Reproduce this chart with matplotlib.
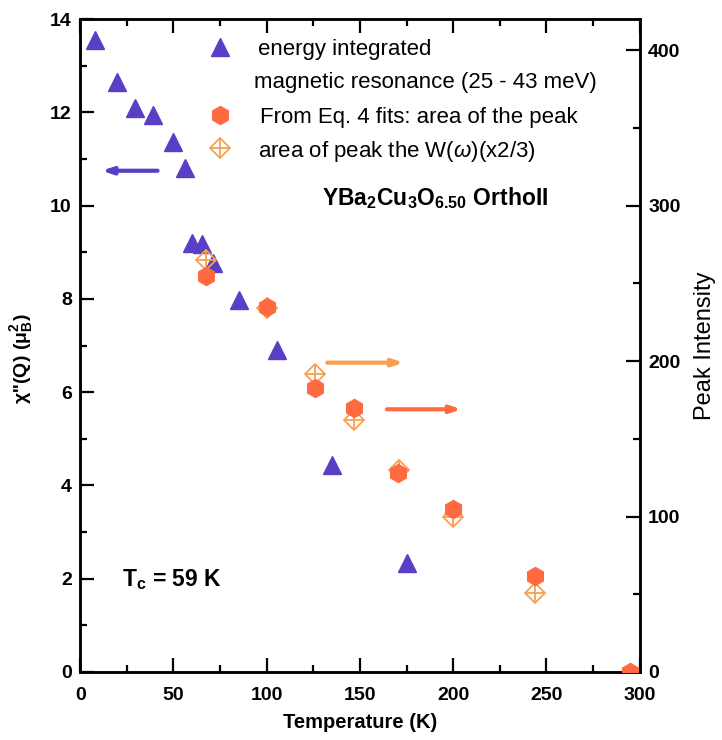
import numpy as np
import matplotlib
matplotlib.use("Agg")
import matplotlib.pyplot as plt
from matplotlib.ticker import MultipleLocator

plt.rcParams['font.family'] = ['Liberation Sans', 'DejaVu Sans']
plt.rcParams['mathtext.fontset'] = 'custom'
plt.rcParams['mathtext.rm'] = 'Liberation Sans'
plt.rcParams['mathtext.it'] = 'Liberation Sans:italic'
plt.rcParams['mathtext.bf'] = 'Liberation Sans:bold'

# energy integrated magnetic resonance (left axis)
temp_res = [8, 20, 29.5, 39, 50, 56, 60, 65.5, 71, 85, 105.5, 135, 175]
chi_res = [13.55, 12.65, 12.1, 11.94, 11.36, 10.8, 9.2, 9.18, 8.77, 7.98, 6.9, 4.44, 2.34]

# Eq. 4 fits: area of the peak (right axis)
temp_fit = [67.5, 100, 126, 147, 170.5, 200, 244, 295]
area_fit = [255, 235, 183, 170, 128, 105, 62, 0]

# area of peak the W(omega) x2/3 (right axis)
temp_w = [67.5, 100, 126, 147, 171, 200, 244]
area_w = [265, 234, 192, 162, 130, 100, 51]

purple = '#5a3fc6'
red = '#ff6a40'
orange = '#f7a052'

fig = plt.figure(figsize=(7.22, 7.40), dpi=100)
ax = fig.add_axes([0.111, 0.092, 0.775, 0.882])
ax2 = ax.twinx()

ax.plot(temp_res, chi_res, ls='none', marker='^', ms=13, color=purple, mec=purple, zorder=3)
ax2.plot(temp_w, area_w, ls='none', marker='D', ms=10, mfc='none', mec=orange, mew=1.3, zorder=3)
ax2.plot(temp_w, area_w, ls='none', marker='+', ms=14, mec=orange, mew=1.3, zorder=3)
ax2.plot(temp_fit, area_fit, ls='none', marker='h', ms=13, color=red, mec=red, zorder=4, clip_on=True)

# arrows pointing to the axis each series belongs to
ax.annotate('', xy=(10, 10.75), xytext=(43, 10.75),
            arrowprops=dict(arrowstyle='-|>,head_length=0.6,head_width=0.2', color=purple, lw=3))
ax2.annotate('', xy=(175, 199), xytext=(131, 199),
             arrowprops=dict(arrowstyle='-|>,head_length=0.6,head_width=0.2', color=orange, lw=3))
ax2.annotate('', xy=(206, 169), xytext=(163, 169),
             arrowprops=dict(arrowstyle='-|>,head_length=0.6,head_width=0.2', color=red, lw=3))

ax.set_xlim(0, 300)
ax.set_ylim(0, 14)
ax2.set_ylim(0, 420)

ax.xaxis.set_major_locator(MultipleLocator(50))
ax.xaxis.set_minor_locator(MultipleLocator(25))
ax.yaxis.set_major_locator(MultipleLocator(2))
ax.yaxis.set_minor_locator(MultipleLocator(1))
ax2.yaxis.set_major_locator(MultipleLocator(100))
ax2.yaxis.set_minor_locator(MultipleLocator(50))

for a in (ax, ax2):
    for s in a.spines.values():
        s.set_linewidth(1.8)
ax.tick_params(which='both', direction='in', top=True, right=False, width=1.6)
ax.tick_params(which='major', length=10, labelsize=14, pad=6)
ax.tick_params(axis='x', which='major', pad=11)
ax.tick_params(which='minor', length=5)
ax2.tick_params(which='both', direction='in', width=1.6)
ax2.tick_params(which='major', length=10, labelsize=14, pad=6)
ax2.tick_params(which='minor', length=5)
for lab in ax.get_xticklabels() + ax.get_yticklabels() + ax2.get_yticklabels():
    lab.set_fontweight('bold')

ax.set_xlabel('Temperature (K)', fontsize=14.5, fontweight='bold', labelpad=6)
ax.set_ylabel(r"χ''(Q) (μ$_\mathbf{B}^\mathbf{2}$)", fontsize=14, fontweight='bold')
ax.yaxis.set_label_coords(-0.08, 0.48)
ax2.set_ylabel('Peak Intensity', fontsize=17, labelpad=10)

# legend drawn by hand so the marker sits on the first text line
tr = ax.transAxes
ax.plot([0.25], [0.958], transform=tr, ls='none', marker='^', ms=13, color=purple, clip_on=False)
ax.plot([0.25], [0.854], transform=tr, ls='none', marker='h', ms=13, color=red, clip_on=False)
ax.plot([0.25], [0.803], transform=tr, ls='none', marker='D', ms=10, mfc='none', mec=orange, mew=1.3)
ax.plot([0.25], [0.803], transform=tr, ls='none', marker='+', ms=14, mec=orange, mew=1.3)
leg_lines = ['energy integrated', 'magnetic resonance (25 - 43 meV)',
             'From Eq. 4 fits: area of the peak', r'area of peak the W($\omega$)(x2/3)']
leg_y = [0.953, 0.903, 0.849, 0.798]
leg_x = [0.317, 0.310, 0.321, 0.317]
for txt, x, y in zip(leg_lines, leg_x, leg_y):
    ax.text(x, y, txt, transform=tr, fontsize=16, va='center', ha='left')

ax.text(0.432, 0.716, r'$\mathbf{YBa_2Cu_3O_{6.50}}$ $\mathbf{OrthoII}$', transform=tr,
        fontsize=16.5, va='baseline', ha='left')
ax.text(0.075, 0.141, r'$\mathbf{T_c}$ = 59 K', transform=tr, fontsize=16.5,
        fontweight='bold', va='center', ha='left')

fig.savefig('out.png', dpi=100)
